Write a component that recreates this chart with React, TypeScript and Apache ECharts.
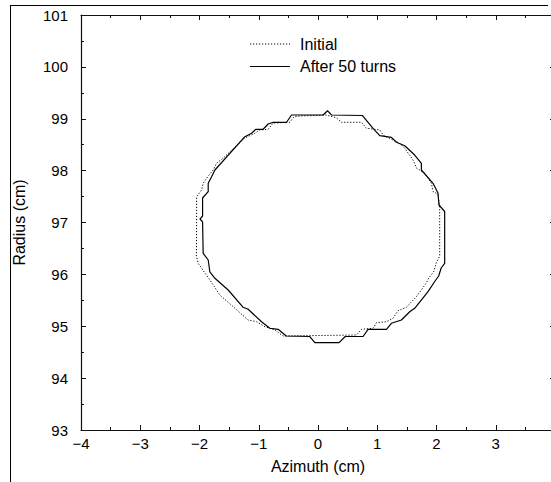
import React, { useEffect, useRef } from "react";
import * as echarts from "echarts";

const xTicks = [-4, -3, -2, -1, 0, 1, 2, 3, 4];
const yTicks = [93, 94, 95, 96, 97, 98, 99, 100, 101];

const initialX = [
  -2.049, -2.049, -1.965, -1.938, -1.853, -1.769, -1.712, -1.6, -1.234, -1.066,
  -0.993, -0.841, -0.757, -0.476, -0.408, -0.307, 0.132, 0.312, 0.396, 0.734,
  0.818, 0.929, 1.042, 1.11, 1.379, 1.464, 1.604, 1.661, 1.801, 1.914,
  1.941, 2.025, 2.054, 2.054, 1.998, 1.953, 1.868, 1.83, 1.661, 1.492,
  1.351, 1.266, 1.155, 0.987, 0.929, 0.734, 0.649, -0.589, -0.728, -0.897,
  -1.037, -1.179, -1.432, -1.656, -1.825, -1.938, -2.022, -2.052, -2.049,
];
const initialY = [
  97.048, 97.492, 97.627, 97.756, 97.896, 98.012, 98.141, 98.243, 98.629, 98.72,
  98.783, 98.797, 98.918, 98.932, 99.034, 99.053, 99.072, 99.02, 98.932, 98.932,
  98.816, 98.802, 98.783, 98.677, 98.527, 98.43, 98.205, 98.051, 97.948, 97.756,
  97.598, 97.54, 97.299, 96.354, 96.229, 96.052, 95.93, 95.834, 95.57, 95.365,
  95.3, 95.153, 95.088, 95.068, 94.961, 94.941, 94.831, 94.812, 94.928, 94.991,
  95.088, 95.12, 95.377, 95.602, 95.892, 96.075, 96.213, 96.354, 97.048,
];

const afterX = [
  -1.948, -1.993, -1.948, -1.948, -1.853, -1.853, -1.796, -1.74, -1.234, -1.121,
  -1.049, -0.926, -0.841, -0.757, -0.531, -0.447, 0.086, 0.16, 0.228, 0.747,
  0.929, 1.042, 1.239, 1.324, 1.464, 1.632, 1.745, 1.745, 1.941, 2.025,
  2.042, 2.138, 2.138, 2.079, 2.037, 1.97, 1.857, 1.632, 1.548, 1.408,
  1.239, 1.155, 0.845, 0.761, 0.46, 0.356, -0.054, -0.138, -0.535, -0.673,
  -0.813, -0.953, -1.179, -1.263, -1.516, -1.74, -1.825, -1.853, -1.938, -1.948,
];
const afterY = [
  97.015, 97.067, 97.125, 97.472, 97.594, 97.756, 97.883, 98.012, 98.654, 98.72,
  98.797, 98.797, 98.899, 98.932, 98.932, 99.072, 99.072, 99.155, 99.072, 99.063,
  98.816, 98.673, 98.642, 98.546, 98.48, 98.301, 98.141, 98.012, 97.756, 97.569,
  97.337, 97.212, 96.213, 96.123, 95.969, 95.863, 95.666, 95.346, 95.28, 95.12,
  95.057, 94.941, 94.941, 94.802, 94.802, 94.683, 94.683, 94.802, 94.812, 94.941,
  94.961, 95.088, 95.327, 95.365, 95.699, 95.924, 96.046, 96.277, 96.406, 97.015,
];

const seriesNames = ["Initial", "After 50 turns"];
const xName = "Azimuth (cm)";
const yName = "Radius (cm)";

const FONT = "Liberation Sans, Arial, Helvetica, sans-serif";
const DOT: number[] = [1.2, 1.8];

const fmt = (v: number) => (v < 0 ? "\u2212" + Math.abs(v) : String(v));

export default function App() {
  const ref = useRef<HTMLDivElement>(null);
  useEffect(() => {
    if (!ref.current) return;
    const chart = echarts.init(ref.current, null, { renderer: "svg" });
    const axisLine = { show: true, onZero: false, lineStyle: { color: "#111", width: 1.2 } };
    const tick = { show: true, inside: true, length: 5, lineStyle: { color: "#111", width: 1 } };
    const minor = { show: true, splitNumber: 2, length: 3, lineStyle: { color: "#111", width: 1 } };
    const label = { color: "#000", fontSize: 15, fontFamily: FONT };
    const legendText = { fill: "#000", fontSize: 16, fontFamily: FONT, verticalAlign: "middle" as const };
    chart.setOption({
      animation: false,
      backgroundColor: "#fff",
      grid: {
        left: 81,
        top: 15,
        width: 474,
        height: 415,
        containLabel: false,
        outerBoundsMode: "none",
      },
      xAxis: [
        {
          type: "value",
          min: -4,
          max: 4,
          interval: 1,
          position: "bottom",
          name: xName,
          nameLocation: "middle",
          nameGap: 28,
          nameTextStyle: { color: "#000", fontSize: 16, fontFamily: FONT },
          axisLine,
          axisTick: tick,
          minorTick: minor,
          splitLine: { show: false },
          axisLabel: { ...label, margin: 6, formatter: fmt, showMaxLabel: true, showMinLabel: true },
          data: xTicks,
        },
        {
          type: "value",
          min: -4,
          max: 4,
          interval: 1,
          position: "top",
          axisLine,
          axisTick: tick,
          minorTick: minor,
          splitLine: { show: false },
          axisLabel: { show: false },
        },
      ],
      yAxis: [
        {
          type: "value",
          min: 93,
          max: 101,
          interval: 1,
          position: "left",
          name: yName,
          nameLocation: "middle",
          nameGap: 54,
          nameRotate: 90,
          nameTextStyle: { color: "#000", fontSize: 16, fontFamily: FONT },
          axisLine,
          axisTick: tick,
          minorTick: minor,
          splitLine: { show: false },
          axisLabel: { ...label, margin: 13 },
          data: yTicks,
        },
        {
          type: "value",
          min: 93,
          max: 101,
          interval: 1,
          position: "right",
          axisLine,
          axisTick: tick,
          minorTick: minor,
          splitLine: { show: false },
          axisLabel: { show: false },
        },
      ],
      graphic: [
        { type: "line", shape: { x1: 10, y1: 5.5, x2: 548, y2: 5.5 }, style: { stroke: "#000", lineWidth: 1 } },
        { type: "line", shape: { x1: 10.5, y1: 5, x2: 10.5, y2: 482 }, style: { stroke: "#000", lineWidth: 1 } },
        { type: "line", shape: { x1: 250, y1: 44, x2: 290, y2: 44 }, style: { stroke: "#000", lineWidth: 1, lineDash: DOT } },
        { type: "text", x: 300, y: 44, style: { ...legendText, text: seriesNames[0] } },
        { type: "line", shape: { x1: 250, y1: 66.5, x2: 290, y2: 66.5 }, style: { stroke: "#000", lineWidth: 1.2 } },
        { type: "text", x: 300, y: 66.5, style: { ...legendText, text: seriesNames[1] } },
      ],
      series: [
        {
          name: seriesNames[0],
          type: "line",
          xAxisIndex: 0,
          yAxisIndex: 0,
          symbol: "none",
          data: initialX.map((x, i) => [x, initialY[i]]),
          lineStyle: { color: "#000", width: 1, type: DOT },
          itemStyle: { color: "#000" },
        },
        {
          name: seriesNames[1],
          type: "line",
          xAxisIndex: 0,
          yAxisIndex: 0,
          symbol: "none",
          data: afterX.map((x, i) => [x, afterY[i]]),
          lineStyle: { color: "#000", width: 1.2, type: "solid" },
          itemStyle: { color: "#000" },
        },
      ],
    });
    return () => chart.dispose();
  }, []);
  return (
    <div
      ref={ref}
      style={{ position: "fixed", left: 0, top: 0, width: 551, height: 482, background: "#fff" }}
    />
  );
}
